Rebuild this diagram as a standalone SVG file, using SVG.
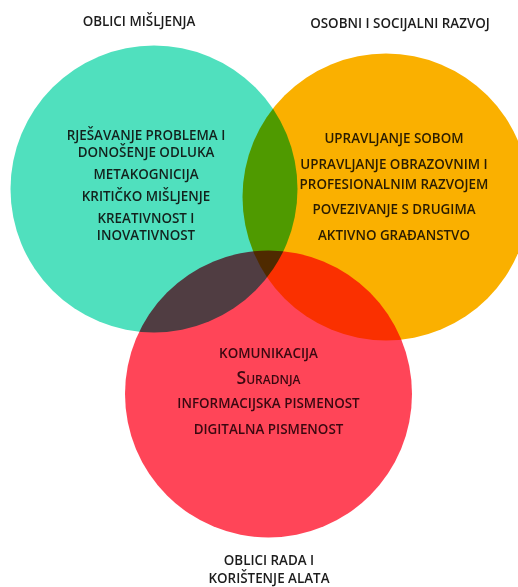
<svg xmlns="http://www.w3.org/2000/svg" width="518" height="587" viewBox="0 0 518 587">
<style>
.c{mix-blend-mode:multiply}
text{font-family:"Open Sans","Liberation Sans",sans-serif;font-weight:600;text-anchor:middle;font-size:13.4px}
.t{fill:#1c1c1c;font-size:13.4px}
.g{fill:#13221d}
.o{fill:#2a1c00}
.r{fill:#3a0810}
.sc{font-variant:small-caps;font-size:17.6px}
</style>
<rect width="518" height="587" fill="#ffffff"/>
<g id="node-oblici-misljenja">
<circle class="c" cx="154" cy="189" r="143.5" fill="#50E0BE"/>
<text class="g" x="146" y="140">RJEŠAVANJE PROBLEMA I</text>
<text class="g" x="146" y="157">DONOŠENJE ODLUKA</text>
<text class="g" x="146" y="179">METAKOGNICIJA</text>
<text class="g" x="146" y="201">KRITIČKO MIŠLJENJE</text>
<text class="g" x="146" y="223">KREATIVNOST I</text>
<text class="g" x="146" y="240">INOVATIVNOST</text>
</g>
<g id="node-osobni-razvoj">
<circle class="c" cx="386" cy="197" r="143.5" fill="#FAB000"/>
<text class="o" x="394" y="143">UPRAVLJANJE SOBOM</text>
<text class="o" x="394" y="169">UPRAVLJANJE OBRAZOVNIM I</text>
<text class="o" x="394" y="189">PROFESIONALNIM RAZVOJEM</text>
<text class="o" x="394" y="214">POVEZIVANJE S DRUGIMA</text>
<text class="o" x="394" y="240">AKTIVNO GRAĐANSTVO</text>
</g>
<g id="node-oblici-rada">
<circle class="c" cx="268.5" cy="394" r="143.5" fill="#FF4558"/>
<text class="r" x="268.5" y="358">KOMUNIKACIJA</text>
<text class="r sc" x="268.5" y="384">Suradnja</text>
<text class="r" x="268.5" y="408">INFORMACIJSKA PISMENOST</text>
<text class="r" x="268.5" y="434">DIGITALNA PISMENOST</text>
</g>
<g id="titles">
<text class="t" x="139" y="26">OBLICI MIŠLJENJA</text>
<text class="t" x="400" y="28">OSOBNI I SOCIJALNI RAZVOJ</text>
<text class="t" x="269" y="565">OBLICI RADA I</text>
<text class="t" x="269" y="583">KORIŠTENJE ALATA</text>
</g>
</svg>
